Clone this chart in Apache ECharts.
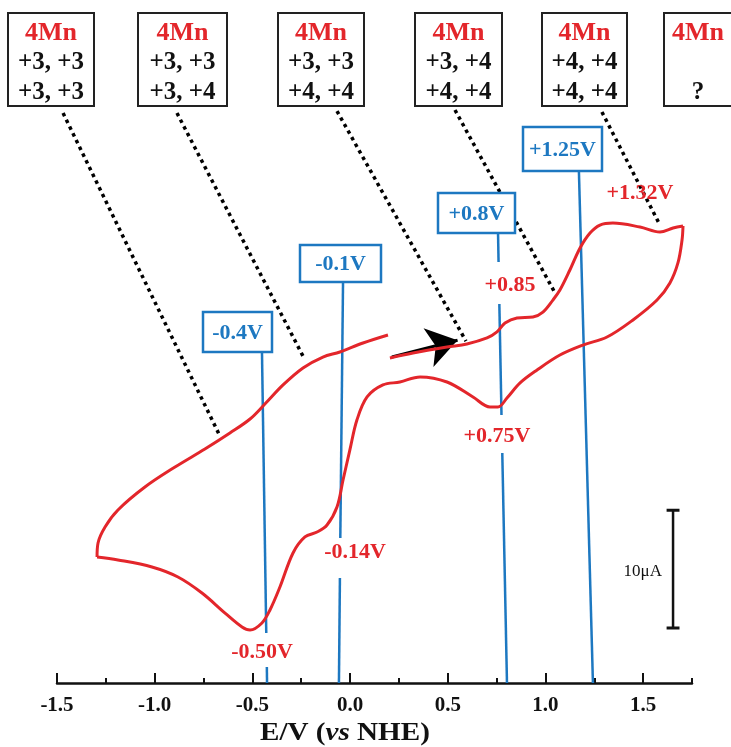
<!DOCTYPE html>
<html>
<head>
<meta charset="utf-8">
<script src="https://cdn.jsdelivr.net/npm/echarts@6/dist/echarts.min.js"></script>
<style>html,body{margin:0;padding:0;background:#fff}#c{width:731px;height:747px}</style>
</head>
<body>
<div id="c"></div>
<script>
// ---------- data (potential in V vs NHE, current in µA, arbitrary zero) ----------
const fwd1E = [0.204,0.322,0.496,0.598,0.701,0.752,0.793,0.854,0.936,0.987,1.038,1.074,1.125,1.177,1.228,1.279,1.345,1.484,1.586,1.653,1.704];
const fwd1I = [27.60,28.02,28.53,28.79,29.30,29.81,30.57,31.00,31.08,31.50,32.52,33.37,35.07,36.94,38.21,38.89,39.06,38.72,38.30,38.64,38.81];
const revE = [1.704,1.699,1.678,1.637,1.571,1.448,1.315,1.192,1.074,0.957,0.870,0.803,0.757,0.716,0.629,0.496,0.358,0.255,0.168,0.087,0.035,-0.001,-0.036,-0.067,-0.118,-0.169,-0.231,-0.292,-0.359,-0.410,-0.451,-0.512,-0.553,-0.640,-0.758,-0.881,-1.014,-1.188,-1.295];
const revI = [38.81,37.62,35.67,33.97,32.52,30.83,29.38,28.70,27.85,26.58,25.48,24.20,23.44,23.44,24.29,25.56,25.99,25.56,25.31,24.29,22.33,19.79,17.24,14.95,13.42,12.82,12.40,11.04,8.15,6.20,5.10,4.50,4.76,5.94,7.64,9.00,9.85,10.45,10.70];
const fwd2E = [-1.295,-1.290,-1.254,-1.188,-1.050,-0.896,-0.743,-0.615,-0.512,-0.436,-0.343,-0.241,-0.139,-0.052,0.066,0.194];
const fwd2I = [10.70,11.89,13.25,14.69,16.64,18.34,19.87,21.23,22.42,23.69,25.31,26.75,27.68,28.11,28.87,29.55];

const majorTicks = [-1.5,-1.0,-0.5,0.0,0.5,1.0,1.5];
const minorTicks = [-1.25,-0.75,-0.25,0.25,0.75,1.25,1.75];

const stateLine1 = ['+3, +3','+3, +3','+3, +3','+3, +4','+4, +4',''];
const stateLine2 = ['+3, +3','+3, +4','+4, +4','+4, +4','+4, +4','?'];
const stateTitle = '4Mn';

// dotted leaders from state boxes to the curve [E, I]
const leaders = [
  [[-1.469,48.40],[-0.671,21.14]],
  [[-0.886,48.40],[-0.236,27.60]],
  [[-0.067,48.57],[0.593,29.04]],
  [[0.537,48.66],[1.049,33.12]],
  [[1.289,48.49],[1.586,38.89]]
];
// blue potential markers (segments, broken around peak labels)
const bluePotLabels = ['-0.4V','-0.1V','+0.8V','+1.25V'];
const blueSegments = [
  [[-0.451,28.19],[-0.429,4.25]],
  [[-0.426,1.36],[-0.425,0]],
  [[-0.036,34.14],[-0.050,12.31]],
  [[-0.052,8.92],[-0.057,0]],
  [[0.757,38.47],[0.760,35.75]],
  [[0.764,32.18],[0.775,22.76]],
  [[0.779,19.53],[0.803,0]],
  [[1.171,43.56],[1.243,0]]
];
const peakLabels = ['-0.50V','-0.14V','+0.85','+0.75V','+1.32V'];
const arrowSeg = [[0.214,27.68],[0.550,29.10]];
const scaleBarE = 1.653, scaleBarI0 = 4.67, scaleBarSpan = 10, scaleCap = 0.033;
const scaleLabel = '10\u03bcA';

// ---------- styling / layout ----------
const RED = '#e3262b', BLUE = '#1d78c1', SERIF = '"Liberation Serif", "Times New Roman", serif';

const pair = (a, b) => a.map((v, i) => [v, b[i]]);
const series = [];
const cvStyle = {type:'line', smooth:0.35, symbol:'none', lineStyle:{color:RED, width:3}, silent:true, z:5};
series.push(Object.assign({data: pair(fwd1E, fwd1I)}, cvStyle));
series.push(Object.assign({data: pair(revE, revI)}, cvStyle));
series.push(Object.assign({data: pair(fwd2E, fwd2I)}, cvStyle));
leaders.forEach(seg => series.push({type:'line', data:seg, symbol:'none', silent:true, z:3,
  lineStyle:{color:'#000', width:3.5, type:[3.5,4], cap:'butt'}}));
blueSegments.forEach(seg => series.push({type:'line', data:seg, symbol:'none', silent:true, z:4,
  lineStyle:{color:BLUE, width:2.5}}));
// scale bar
series.push({type:'line', data:[[scaleBarE,scaleBarI0],[scaleBarE,scaleBarI0+scaleBarSpan]], symbol:'none', silent:true, lineStyle:{color:'#111', width:2.5}});
series.push({type:'line', data:[[scaleBarE-scaleCap,scaleBarI0],[scaleBarE+scaleCap,scaleBarI0]], symbol:'none', silent:true, lineStyle:{color:'#111', width:3}});
series.push({type:'line', data:[[scaleBarE-scaleCap,scaleBarI0+scaleBarSpan],[scaleBarE+scaleCap,scaleBarI0+scaleBarSpan]], symbol:'none', silent:true, lineStyle:{color:'#111', width:3}});
// scan direction arrow
series.push({type:'line', data:[], silent:true, z:6,
  markLine:{silent:true, symbol:['none','arrow'], symbolSize:30, label:{show:false},
    lineStyle:{color:'#000', width:3, type:'solid'},
    data:[[{coord:arrowSeg[0]},{coord:arrowSeg[1]}]]}});

// graphic annotations
const boxX = [8,138,278,415,542,664], boxW = [86,89,86,87,85,75];
const graphic = [];
boxX.forEach((x, i) => {
  graphic.push({type:'rect', shape:{x:x, y:13, width:boxW[i], height:93}, style:{fill:'#fff', stroke:'#222', lineWidth:2}, z:10});
  const cx = i === 5 ? 698 : x + boxW[i]/2;
  graphic.push({type:'text', x:cx, y:33, style:{text:stateTitle, font:'bold 26px '+SERIF, fill:RED, textAlign:'center', textVerticalAlign:'middle'}, z:11});
  graphic.push({type:'text', x:cx, y:63, style:{text:stateLine1[i], font:'bold 25px '+SERIF, fill:'#111', textAlign:'center', textVerticalAlign:'middle'}, z:11});
  graphic.push({type:'text', x:cx, y:93, style:{text:stateLine2[i], font:'bold 25px '+SERIF, fill:'#111', textAlign:'center', textVerticalAlign:'middle'}, z:11});
});
const blueBox = [[203,312,69,40],[300,245,81,37],[438,193,77,40],[523,127,79,44]];
blueBox.forEach((b, i) => {
  graphic.push({type:'rect', shape:{x:b[0], y:b[1], width:b[2], height:b[3]}, style:{fill:'#fff', stroke:BLUE, lineWidth:2.5}, z:10});
  graphic.push({type:'text', x:b[0]+b[2]/2, y:b[1]+b[3]/2+1, style:{text:bluePotLabels[i], font:'bold 22px '+SERIF, fill:BLUE, textAlign:'center', textVerticalAlign:'middle'}, z:11});
});
const peakPos = [[262,652],[355,552],[510,285],[497,436],[640,193]];
peakPos.forEach((p, i) => {
  graphic.push({type:'text', x:p[0], y:p[1], style:{text:peakLabels[i], font:'bold 22px '+SERIF, fill:RED, textAlign:'center', textVerticalAlign:'middle'}, z:11});
});
graphic.push({type:'text', x:662, y:572, style:{text:scaleLabel, font:'17px '+SERIF, fill:'#111', textAlign:'right', textVerticalAlign:'middle'}, z:11});
graphic.push({type:'text', x:392, y:733, scaleX:1.12, originX:392, originY:733, style:{
  text:'{n|E/V (}{i|vs}{n| NHE)}', textAlign:'center', textVerticalAlign:'middle',
  rich:{n:{font:'bold 26px '+SERIF, fill:'#111'}, i:{font:'italic bold 26px '+SERIF, fill:'#111'}}}, z:11});

const option = {
  animation:false,
  backgroundColor:'#fff',
  grid:{left:57, right:39, top:0, bottom:64},
  xAxis:[{
    type:'value', min:-1.5, max:1.75,
    axisLine:{show:true, lineStyle:{color:'#111', width:2.5}},
    axisTick:{show:true, inside:true, length:10, lineStyle:{color:'#111', width:2}, customValues:majorTicks},
    axisLabel:{show:true, customValues:majorTicks, formatter:v => Number(v).toFixed(1), margin:12,
      fontFamily:SERIF, fontWeight:'bold', fontSize:21, color:'#111'},
    splitLine:{show:false}
  },{
    type:'value', min:-1.5, max:1.75, position:'bottom',
    axisLine:{show:false},
    axisTick:{show:true, inside:true, length:5, lineStyle:{color:'#111', width:2}, customValues:minorTicks},
    axisLabel:{show:false}, splitLine:{show:false}
  }],
  yAxis:{type:'value', min:0, max:58, show:false, splitLine:{show:false}},
  series:series,
  graphic:graphic
};
const chart = echarts.init(document.getElementById('c'), null, {renderer:'canvas'});
chart.setOption(option);
</script>
</body>
</html>
